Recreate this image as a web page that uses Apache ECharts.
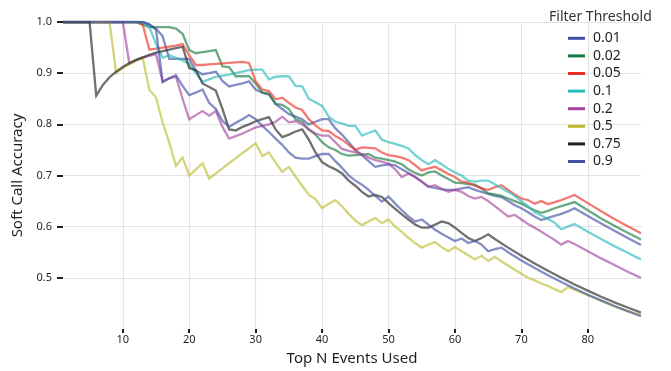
<!DOCTYPE html>
<html>
<head>
<meta charset="utf-8">
<script src="https://cdn.jsdelivr.net/npm/echarts@6/dist/echarts.min.js"></script>
<style>
  html, body { margin: 0; padding: 0; background: #fff; }
  #chart { width: 671px; height: 371px; }
</style>
</head>
<body>
<div id="chart"></div>
<script>
  //series names (filter threshold)
  var seriesNames = ['0.01', '0.02', '0.05', '0.1', '0.2', '0.5', '0.75', '0.9'];
  var legendColors = ['#3f4fa2', '#157a3e', '#ec2f26', '#27b9b9', '#a4449c', '#bcbe2e', '#231f20', '#3f4fa2'];

  //tick values
  var xTicks = [10, 20, 30, 40, 50, 60, 70, 80];
  var yTicks = [0.5, 0.6, 0.7, 0.8, 0.9, 1.0];

  //[top N, soft call accuracy]
  var t001 = [[1, 1], [13, 1], [14, 0.995], [15, 0.987], [16, 0.972], [17, 0.928], [20, 0.928], [21, 0.905], [22, 0.898],
    [23, 0.9], [24, 0.903], [25, 0.885], [26, 0.874], [27, 0.877], [28, 0.88], [29, 0.884], [30, 0.868], [31, 0.862],
    [32, 0.858], [33, 0.84], [34, 0.83], [35, 0.82], [36, 0.815], [37, 0.81], [38, 0.8], [39, 0.805], [40, 0.81],
    [41, 0.81], [42, 0.792], [43, 0.78], [44, 0.765], [45, 0.75], [46, 0.74], [47, 0.728], [48, 0.717], [49, 0.72],
    [50, 0.722], [51, 0.72], [52, 0.712], [53, 0.705], [54, 0.697], [55, 0.688], [56, 0.678], [57, 0.676], [58, 0.673],
    [59, 0.672], [60, 0.672], [61, 0.675], [62, 0.677], [63, 0.672], [64, 0.668], [65, 0.664], [66, 0.66], [67, 0.658],
    [68, 0.65], [69, 0.642], [70, 0.636], [71, 0.628], [72, 0.62], [73, 0.613], [74, 0.617], [75, 0.621], [76, 0.625],
    [77, 0.63], [78, 0.636], [80, 0.621], [82, 0.606], [84, 0.592], [86, 0.578], [88, 0.564]];
  var t002 = [[1, 1], [12, 1], [13, 0.995], [14, 0.99], [17, 0.99], [18, 0.987], [19, 0.977], [20, 0.945], [21, 0.939],
    [22, 0.941], [23, 0.943], [24, 0.945], [25, 0.913], [26, 0.912], [27, 0.894], [28, 0.894], [29, 0.894], [30, 0.88],
    [31, 0.862], [32, 0.86], [33, 0.84], [34, 0.838], [35, 0.83], [36, 0.81], [37, 0.805], [38, 0.79], [39, 0.78],
    [40, 0.765], [41, 0.755], [42, 0.75], [43, 0.742], [44, 0.739], [45, 0.74], [46, 0.741], [47, 0.742], [48, 0.735],
    [49, 0.733], [50, 0.73], [51, 0.727], [52, 0.722], [53, 0.712], [54, 0.705], [55, 0.7], [56, 0.706], [57, 0.708],
    [58, 0.7], [59, 0.693], [60, 0.686], [61, 0.685], [62, 0.683], [63, 0.682], [64, 0.675], [65, 0.665], [66, 0.663],
    [67, 0.66], [68, 0.655], [69, 0.65], [70, 0.645], [71, 0.638], [72, 0.632], [73, 0.627], [74, 0.631], [75, 0.636],
    [76, 0.64], [77, 0.644], [78, 0.648], [80, 0.632], [82, 0.616], [84, 0.602], [86, 0.588], [88, 0.575]];
  var t005 = [[1, 1], [12, 1], [13, 0.995], [14, 0.946], [15, 0.948], [16, 0.95], [17, 0.952], [18, 0.954], [19, 0.957],
    [20, 0.935], [21, 0.916], [22, 0.916], [23, 0.917], [24, 0.918], [25, 0.919], [26, 0.92], [27, 0.921], [28, 0.922],
    [29, 0.92], [30, 0.884], [31, 0.868], [32, 0.865], [33, 0.849], [34, 0.852], [35, 0.842], [36, 0.833], [37, 0.828],
    [38, 0.81], [39, 0.798], [40, 0.788], [41, 0.787], [42, 0.777], [43, 0.77], [44, 0.76], [45, 0.75], [46, 0.755],
    [47, 0.754], [48, 0.753], [49, 0.745], [50, 0.74], [51, 0.738], [52, 0.735], [53, 0.73], [54, 0.72], [55, 0.71],
    [56, 0.714], [57, 0.717], [58, 0.71], [59, 0.703], [60, 0.697], [61, 0.688], [62, 0.686], [63, 0.68], [64, 0.675],
    [65, 0.672], [66, 0.677], [67, 0.681], [68, 0.672], [69, 0.663], [70, 0.655], [71, 0.652], [72, 0.645], [73, 0.65],
    [74, 0.644], [75, 0.648], [76, 0.652], [77, 0.657], [78, 0.662], [80, 0.646], [82, 0.63], [84, 0.615], [86, 0.601],
    [88, 0.587]];
  var t01 = [[1, 1], [13, 1], [14, 0.99], [15, 0.957], [16, 0.93], [17, 0.935], [18, 0.93], [19, 0.925], [20, 0.918],
    [21, 0.9], [22, 0.883], [23, 0.888], [24, 0.893], [25, 0.895], [26, 0.897], [27, 0.9], [28, 0.903], [29, 0.906],
    [30, 0.907], [31, 0.907], [32, 0.888], [33, 0.893], [34, 0.894], [35, 0.894], [36, 0.875], [37, 0.874], [38, 0.85],
    [39, 0.843], [40, 0.836], [41, 0.815], [42, 0.805], [43, 0.802], [44, 0.797], [45, 0.797], [46, 0.778], [47, 0.783],
    [48, 0.788], [49, 0.77], [50, 0.765], [51, 0.762], [52, 0.758], [53, 0.753], [54, 0.74], [55, 0.73], [56, 0.722],
    [57, 0.73], [58, 0.722], [59, 0.713], [60, 0.706], [61, 0.7], [62, 0.69], [63, 0.688], [64, 0.69], [65, 0.69],
    [66, 0.683], [67, 0.675], [68, 0.668], [69, 0.66], [70, 0.65], [71, 0.64], [72, 0.628], [73, 0.622], [74, 0.615],
    [75, 0.608], [76, 0.595], [77, 0.6], [78, 0.605], [80, 0.59], [82, 0.576], [84, 0.562], [86, 0.549], [88, 0.536]];
  var t02 = [[1, 1], [10, 1], [11, 0.918], [12, 0.925], [13, 0.93], [14, 0.934], [15, 0.937], [16, 0.883], [17, 0.89],
    [18, 0.893], [19, 0.85], [20, 0.81], [21, 0.818], [22, 0.826], [23, 0.817], [24, 0.826], [25, 0.795], [26, 0.772],
    [27, 0.777], [28, 0.782], [29, 0.788], [30, 0.794], [31, 0.797], [32, 0.8], [33, 0.805], [34, 0.815], [35, 0.804],
    [36, 0.806], [37, 0.8], [38, 0.79], [39, 0.782], [40, 0.778], [41, 0.778], [42, 0.765], [43, 0.752], [44, 0.748],
    [45, 0.745], [46, 0.742], [47, 0.735], [48, 0.73], [49, 0.727], [50, 0.723], [51, 0.712], [52, 0.697], [53, 0.704],
    [54, 0.697], [55, 0.688], [56, 0.678], [57, 0.681], [58, 0.674], [59, 0.668], [60, 0.672], [61, 0.668], [62, 0.66],
    [63, 0.655], [64, 0.658], [65, 0.65], [66, 0.64], [67, 0.63], [68, 0.62], [69, 0.623], [70, 0.614], [71, 0.605],
    [72, 0.598], [73, 0.59], [74, 0.582], [75, 0.574], [76, 0.565], [77, 0.572], [78, 0.566], [80, 0.552], [82, 0.538],
    [84, 0.525], [86, 0.512], [88, 0.5]];
  var t05 = [[1, 1], [8, 1], [9, 0.9], [10, 0.91], [11, 0.918], [12, 0.925], [13, 0.93], [14, 0.867], [15, 0.853],
    [16, 0.803], [17, 0.764], [18, 0.719], [19, 0.735], [20, 0.7], [21, 0.712], [22, 0.724], [23, 0.694], [24, 0.704],
    [25, 0.714], [26, 0.724], [27, 0.734], [28, 0.744], [29, 0.753], [30, 0.763], [31, 0.738], [32, 0.745], [33, 0.725],
    [34, 0.707], [35, 0.717], [36, 0.698], [37, 0.68], [38, 0.662], [39, 0.654], [40, 0.636], [41, 0.645], [42, 0.652],
    [43, 0.64], [44, 0.625], [45, 0.612], [46, 0.603], [47, 0.61], [48, 0.617], [49, 0.607], [50, 0.614], [51, 0.6],
    [52, 0.59], [53, 0.578], [54, 0.568], [55, 0.559], [56, 0.565], [57, 0.57], [58, 0.56], [59, 0.552], [60, 0.56],
    [61, 0.552], [62, 0.544], [63, 0.536], [64, 0.543], [65, 0.533], [66, 0.541], [67, 0.532], [68, 0.524], [69, 0.516],
    [70, 0.508], [71, 0.5], [72, 0.495], [73, 0.489], [74, 0.484], [75, 0.478], [76, 0.472], [77, 0.482], [78, 0.477],
    [80, 0.466], [82, 0.455], [84, 0.444], [86, 0.435], [88, 0.427]];
  var t075 = [[1, 1], [5, 1], [6, 0.856], [7, 0.877], [8, 0.892], [9, 0.903], [10, 0.912], [11, 0.92], [12, 0.926],
    [13, 0.931], [14, 0.936], [15, 0.94], [16, 0.943], [17, 0.946], [18, 0.949], [19, 0.952], [20, 0.91], [21, 0.906],
    [22, 0.88], [23, 0.873], [24, 0.866], [25, 0.83], [26, 0.79], [27, 0.788], [28, 0.795], [29, 0.8], [30, 0.806],
    [31, 0.81], [32, 0.814], [33, 0.79], [34, 0.775], [35, 0.78], [36, 0.786], [37, 0.79], [38, 0.77], [39, 0.745],
    [40, 0.726], [41, 0.718], [42, 0.712], [43, 0.704], [44, 0.69], [45, 0.68], [46, 0.668], [47, 0.659], [48, 0.662],
    [49, 0.658], [50, 0.646], [51, 0.635], [52, 0.624], [53, 0.614], [54, 0.604], [55, 0.598], [56, 0.598], [57, 0.604],
    [58, 0.61], [59, 0.607], [60, 0.598], [61, 0.588], [62, 0.578], [63, 0.572], [64, 0.578], [65, 0.585], [66, 0.576],
    [68, 0.559], [70, 0.543], [72, 0.528], [74, 0.514], [76, 0.5], [78, 0.487], [80, 0.475], [82, 0.463], [84, 0.452],
    [86, 0.442], [88, 0.432]];
  var t09 = [[1, 1], [13, 1], [14, 0.995], [15, 0.985], [16, 0.883], [17, 0.89], [18, 0.896], [19, 0.875], [20, 0.857],
    [21, 0.862], [22, 0.868], [23, 0.842], [24, 0.83], [25, 0.807], [26, 0.795], [27, 0.803], [28, 0.81], [29, 0.818],
    [30, 0.81], [31, 0.797], [32, 0.785], [33, 0.772], [34, 0.76], [35, 0.745], [36, 0.735], [37, 0.733], [38, 0.733],
    [39, 0.738], [40, 0.742], [41, 0.742], [42, 0.728], [43, 0.715], [44, 0.7], [45, 0.69], [46, 0.682], [47, 0.672],
    [48, 0.66], [49, 0.649], [50, 0.659], [51, 0.645], [52, 0.632], [53, 0.62], [54, 0.61], [55, 0.614], [56, 0.604],
    [57, 0.594], [58, 0.586], [59, 0.579], [60, 0.572], [61, 0.577], [62, 0.568], [63, 0.572], [64, 0.565], [65, 0.552],
    [66, 0.556], [67, 0.559], [68, 0.55], [70, 0.534], [72, 0.519], [74, 0.505], [76, 0.492], [78, 0.479], [80, 0.467],
    [82, 0.456], [84, 0.445], [86, 0.435], [88, 0.425]];

  var seriesData = [t001, t002, t005, t01, t02, t05, t075, t09];

  var chart = echarts.init(document.getElementById('chart'), null, { renderer: 'canvas' });

  var fontFamily = '"Noto Sans", "DejaVu Sans", sans-serif';

  //build line series
  var series = [];
  for (var i = 0; i < seriesNames.length; i++) {
    series.push({
      name: seriesNames[i],
      type: 'line',
      symbol: 'none',
      data: seriesData[i],
      color: legendColors[i],
      lineStyle: {
        width: 2.3,
        opacity: 0.64,
        join: 'miter'
      },
      emphasis: { disabled: true }
    });
  }

  var option = {
    animation: false,
    backgroundColor: '#fff',
    title: {
      text: 'Filter Threshold',
      left: 549,
      top: 10,
      padding: 0,
      textStyle: {
        fontFamily: fontFamily,
        fontSize: 14,
        fontWeight: 'normal',
        color: '#333'
      }
    },
    legend: {
      orient: 'vertical',
      left: 568,
      top: 29.5,
      padding: 0,
      itemGap: 0,
      itemWidth: 17,
      itemHeight: 3,
      icon: 'rect',
      selectedMode: false,
      data: seriesNames,
      textStyle: {
        fontFamily: fontFamily,
        fontSize: 14,
        color: '#231f20',
        lineHeight: 17.6,
        padding: [0, 0, 0, 3]
      }
    },
    grid: {
      left: 63,
      right: 30,
      top: 22,
      bottom: 39
    },
    xAxis: {
      type: 'value',
      min: 1,
      max: 88,
      name: 'Top N Events Used',
      nameLocation: 'middle',
      nameGap: 22,
      nameTextStyle: {
        fontFamily: fontFamily,
        fontSize: 15,
        color: '#231f20'
      },
      axisLine: { show: false },
      axisTick: {
        show: true,
        length: 4,
        customValues: xTicks,
        lineStyle: { color: '#231f20', width: 2 }
      },
      axisLabel: {
        customValues: xTicks,
        margin: 5,
        fontFamily: fontFamily,
        fontSize: 11,
        color: '#231f20'
      },
      splitLine: {
        show: true,
        lineStyle: { color: '#e4e4e4', width: 1.2 }
      }
    },
    yAxis: {
      type: 'value',
      min: 0.4,
      max: 1.0,
      name: 'Soft Call Accuracy',
      nameLocation: 'middle',
      nameGap: 37,
      nameTextStyle: {
        fontFamily: fontFamily,
        fontSize: 15,
        color: '#231f20'
      },
      axisLine: { show: false },
      axisTick: {
        show: true,
        length: 6,
        customValues: yTicks,
        lineStyle: { color: '#231f20', width: 2 }
      },
      axisLabel: {
        customValues: yTicks,
        margin: 11,
        fontFamily: fontFamily,
        fontSize: 11,
        color: '#231f20',
        formatter: function (value) {
          return value.toFixed(1);
        }
      },
      splitLine: {
        show: true,
        lineStyle: { color: '#e4e4e4', width: 1.2 }
      }
    },
    series: series
  };

  chart.setOption(option);
</script>
</body>
</html>
